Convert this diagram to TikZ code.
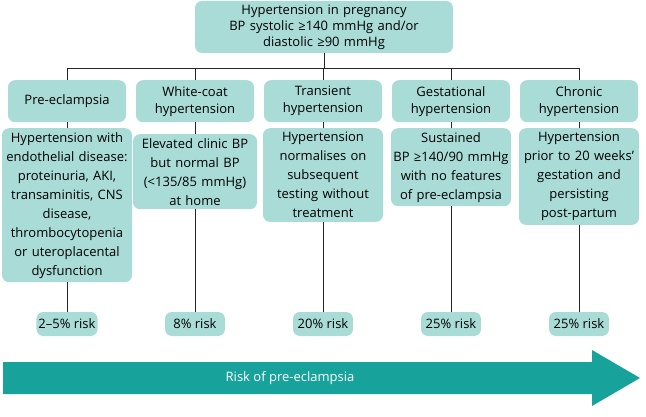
\documentclass[tikz,border=0pt]{standalone}
\usepackage{fontspec}
\setmainfont{Open Sans}
\usetikzlibrary{positioning}
\definecolor{boxfill}{HTML}{A9DCD7}
\definecolor{arrowteal}{HTML}{17A39B}

\begin{document}
\begin{tikzpicture}[
    x=1pt, y=-1pt,
    box/.style={rectangle, rounded corners=7pt, fill=boxfill, align=center, inner xsep=2pt, inner ysep=4pt,
      font=\fontsize{13}{19}\selectfont, text width=#1},
    box/.default=118pt,
    risk/.style={rectangle, rounded corners=7pt, fill=boxfill, minimum width=60pt, minimum height=24pt, inner sep=2pt, font=\fontsize{13}{17}\selectfont},
    link/.style={thick, black!85}
]
\useasboundingbox (0,0) rectangle (646,417);

\node[box=254pt, minimum height=52pt, inner ysep=2pt, font=\fontsize{13}{16}\selectfont] (top) at (324,27) {Hypertension in pregnancy\\BP systolic ≥140 mmHg and/or\\diastolic ≥90 mmHg};

% headers
\node[box=114pt, minimum height=42pt, inner ysep=2pt, font=\fontsize{13}{17}\selectfont, anchor=north] (pe) at (67,80) {Pre-eclampsia};
\node[box=114pt, minimum height=42pt, inner ysep=2pt, font=\fontsize{13}{17}\selectfont, anchor=north] (wc) at (195,80) {White-coat\\hypertension};
\node[box=114pt, minimum height=42pt, inner ysep=2pt, font=\fontsize{13}{17}\selectfont, anchor=north] (th) at (323,80) {Transient\\hypertension};
\node[box=114pt, minimum height=42pt, inner ysep=2pt, font=\fontsize{13}{17}\selectfont, anchor=north] (gh) at (451,80) {Gestational\\hypertension};
\node[box=114pt, minimum height=42pt, inner ysep=2pt, font=\fontsize{13}{17}\selectfont, anchor=north] (ch) at (579,80) {Chronic\\hypertension};

% descriptions
\node[box=126pt, anchor=north] (pedesc) at (67,128) {Hypertension with\\endothelial disease:\\proteinuria, AKI,\\transaminitis, CNS\\disease,\\thrombocytopenia\\or uteroplacental\\dysfunction};
\node[box=120pt, anchor=north] (wcdesc) at (195,134) {Elevated clinic BP\\but normal BP\\(<135/85 mmHg)\\at home};
\node[box=116pt, anchor=north] (thdesc) at (323,128) {Hypertension\\normalises on\\subsequent\\testing without\\treatment};
\node[box=116pt, anchor=north] (ghdesc) at (451,128) {Sustained\\BP ≥140/90 mmHg\\with no features\\of pre-eclampsia\\[19pt]};
\node[box=116pt, anchor=north] (chdesc) at (579,128) {Hypertension\\prior to 20 weeks'\\gestation and\\persisting\\post-partum};

% risks
\node[risk] (perisk) at (67,324) {2–5\% risk};
\node[risk] (wcrisk) at (195,324) {8\% risk};
\node[risk] (thrisk) at (323,324) {20\% risk};
\node[risk] (ghrisk) at (451,324) {25\% risk};
\node[risk] (chrisk) at (579,324) {25\% risk};

% connectors
\coordinate (bar) at (0,68);
\draw[link] (top) -- (top |- bar);
\draw[link] (pe |- bar) -- (ch |- bar);
\foreach \c in {pe,wc,th,gh,ch} {
  \draw[link] (\c |- bar) -- (\c);
  \draw[link] (\c) -- (\c desc);
  \draw[link] (\c desc) -- (\c risk);
}

% risk arrow
\fill[arrowteal] (3,362) -- (592,362) -- (592,350) -- (640,378) -- (592,406) -- (592,394) -- (3,394) -- cycle;
\node[font=\fontsize{13}{17}\selectfont, text=white] (arrowlabel) at (290,378) {Risk of pre-eclampsia};
\end{tikzpicture}
\end{document}
